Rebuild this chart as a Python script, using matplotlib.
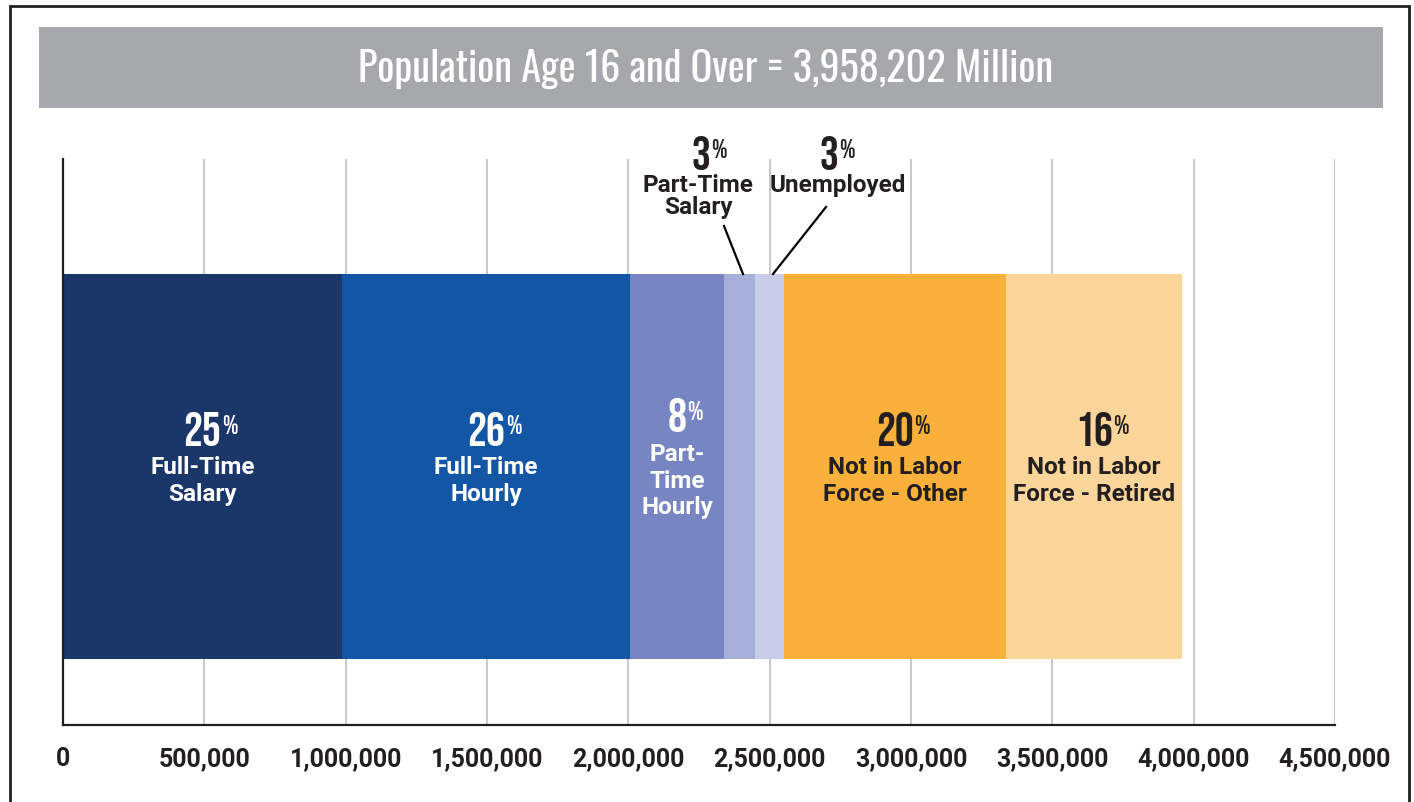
import matplotlib
matplotlib.use('Agg')
import matplotlib.pyplot as plt
from matplotlib import font_manager
from matplotlib.patches import Rectangle
from matplotlib.ticker import FuncFormatter

# Data
categories = ['Full-Time\nSalary', 'Full-Time\nHourly', 'Part-\nTime\nHourly',
              'Part-Time\nSalary', 'Unemployed',
              'Not in Labor\nForce - Other', 'Not in Labor\nForce - Retired']
values = [987000, 1020000, 330000, 110000, 102000, 786000, 623000]
percents = ['25', '26', '8', '3', '3', '20', '16']
ticks = [0, 500000, 1000000, 1500000, 2000000, 2500000, 3000000, 3500000, 4000000, 4500000]
title = 'Population Age 16 and Over = 3,958,202 Million'

colors = ['#1b3668', '#1456a6', '#7786c2', '#a6b0d8', '#c7cde8', '#f9b13c', '#fcd59a']
text_colors = ['white', 'white', 'white', '#231f20', '#231f20', '#231f20', '#231f20']
dark = '#231f20'

# pick narrow fonts if installed (title needs lower case, numbers only digits)
names = {f.name for f in font_manager.fontManager.ttflist}


def pick(cands):
    for cand in cands:
        if cand in names:
            return cand
    return 'DejaVu Sans'


title_font = pick(['Oswald', 'League Gothic', 'Roboto Condensed', 'Liberation Sans Narrow',
                   'DejaVu Sans Condensed', 'Bebas Neue'])
num_font = pick(['Bebas Neue', 'League Gothic', 'Oswald', 'Roboto Condensed',
                 'Liberation Sans Narrow', 'DejaVu Sans Condensed'])

plt.rcParams['font.family'] = ['Roboto', 'DejaVu Sans']

fig = plt.figure(figsize=(14.14, 8.03), dpi=100)
ax = fig.add_axes([63 / 1414, 77 / 803, 1272 / 1414, 566 / 803])

# outer frame and grey title banner
fig.add_artist(Rectangle((10 / 1414, -0.01), 1399 / 1414, 1.0 - 7 / 803 + 0.01,
                         transform=fig.transFigure, fill=False, lw=2, ec=dark))
fig.add_artist(Rectangle((39 / 1414, 1 - 109 / 803), 1344 / 1414, 81 / 803,
                         transform=fig.transFigure, fc='#a7a8ab', ec='none'))
t = fig.text(706 / 1414, 1 - 69 / 803, title, color='white', ha='center', va='center',
             fontsize=33, fontweight='bold', family=title_font)
# shrink title to roughly the width used in the original
fig.canvas.draw()
w = t.get_window_extent().width
target = 695
if w > target:
    t.set_fontsize(33 * target / w)

# stacked horizontal bar
left = 0
centers = []
for v, c in zip(values, colors):
    ax.barh(0, v, left=left, height=1, color=c, zorder=2)
    centers.append(left + v / 2)
    left += v

ax.set_xlim(0, 4500000)
ax.set_ylim(-0.6714, 0.7987)
ax.set_xticks(ticks)
ax.xaxis.set_major_formatter(FuncFormatter(lambda x, p: f'{int(x):,}'))
ax.set_yticks([])
ax.tick_params(axis='x', length=0, pad=15, labelsize=18, labelcolor=dark)
for lab in ax.get_xticklabels():
    lab.set_fontweight('bold')
ax.grid(axis='x', color='#c4c4c8', lw=1.3, zorder=0)
for s in ['top', 'right']:
    ax.spines[s].set_visible(False)
ax.spines['left'].set_color(dark)
ax.spines['bottom'].set_color(dark)
ax.spines['left'].set_linewidth(1.6)
ax.spines['bottom'].set_linewidth(1.6)
ax.spines['left'].set_zorder(3)


def pct_label(x, y, num, color):
    n = ax.text(x, y, num, ha='center', va='baseline', color=color, fontsize=34,
                fontweight='bold', family=num_font, zorder=4)
    ax.annotate('%', xy=(1, 1), xycoords=n, xytext=(1, -3), textcoords='offset pixels',
                ha='left', va='top', color=color, fontsize=19,
                family=num_font, zorder=4)


def y_px(py):
    # bar top is at pixel row 275, bar is 385 px tall
    return 0.5 - (py - 275) / 385


# labels inside the bar
for i in [0, 1, 2, 5, 6]:
    lines = categories[i].count('\n') + 1
    base = 432 if lines == 3 else 446
    pct_label(centers[i], y_px(base), percents[i], text_colors[i])
    ax.text(centers[i], y_px(481), categories[i], ha='center', va='center',
            color=text_colors[i], fontsize=17.5, fontweight='bold', linespacing=1.2, zorder=4)

# small segments labelled above the bar with leader lines
px = lambda p: (p - 63) / 1272 * 4500000
pct_label(px(701), y_px(170), percents[3], dark)
ax.text(px(698), y_px(196.5), categories[3], ha='center', va='center', color=dark,
        fontsize=17.5, fontweight='bold', linespacing=0.95)
ax.plot([px(724), px(743)], [y_px(227), y_px(275)], color='black', lw=1.6, zorder=5,
        clip_on=False)

pct_label(px(829), y_px(170), percents[4], dark)
ax.text(px(838), y_px(185), categories[4], ha='center', va='center', color=dark,
        fontsize=17.5, fontweight='bold')
ax.plot([px(826), px(773)], [y_px(208), y_px(275)], color='black', lw=1.6, zorder=5,
        clip_on=False)

fig.savefig('out.png', dpi=100)
